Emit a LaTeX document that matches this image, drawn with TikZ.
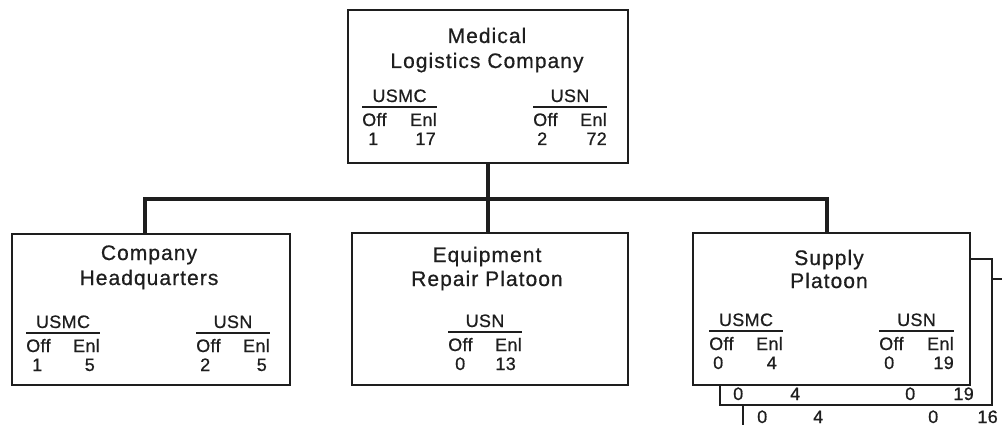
\documentclass[tikz,border=0pt]{standalone}
\usepackage{fontspec}
\setmainfont{Liberation Sans}
\newfontfamily\ttlfont[LetterSpace=5,FakeBold=0.6]{Liberation Sans}
\newfontfamily\subfnt[LetterSpace=2,FakeBold=0.6]{Liberation Sans}
\definecolor{ink}{HTML}{1E1E1E}
\tikzset{
  box/.style={draw=ink, line width=2pt, fill=white, rectangle, inner sep=0pt, anchor=north west},
  bus/.style={draw=ink, line width=4pt, line join=miter},
  ttl/.style={inner sep=0pt, anchor=base, text=ink, font=\ttlfont\fontsize{21}{24}\selectfont},
  sub/.style={inner sep=0pt, text=ink, font=\subfnt\fontsize{18}{20}\selectfont},
  urule/.style={draw=ink, line width=1.1pt},
}
\newcommand\grp[9]{%
  \node[sub, anchor=base] (#1-lab) at ({(#2+#3)/2}, #4) {#5};
  \draw[urule] (#2, #4+5) -- (#3, #4+5);
  \node[sub, anchor=base west] (#1-off) at (#2, #4+24) {Off};
  \node[sub, anchor=base east] (#1-enl) at (#3, #4+24) {Enl};
  \node[sub, anchor=base west] (#1-n1) at (#6, #4+43) {#7};
  \node[sub, anchor=base east] (#1-n2) at (#8, #4+43) {#9};
}
\begin{document}
\begin{tikzpicture}[x=1pt,y=-1pt]
\clip (0,0) rectangle (1002,425);
\fill[white] (0,0) rectangle (1002,425);

% stacked boxes behind supply platoon
\node[box, minimum width=300pt, minimum height=200pt] (sup3) at (742,278) {};
\node[box, minimum width=272pt, minimum height=146pt] (sup2) at (719,258) {};

% main boxes
\node[box, minimum width=280pt, minimum height=153pt] (top) at (347,9) {};
\node[box, minimum width=278pt, minimum height=151pt] (hq) at (11,233) {};
\node[box, minimum width=276pt, minimum height=152pt] (mid) at (351,232) {};
\node[box, minimum width=277pt, minimum height=152pt] (supply) at (692,232) {};

% connectors
\coordinate (busL) at (145,199);
\coordinate (busR) at (827,199);
\draw[bus] (top.south) -- (top.south |- mid.north);
\draw[bus] (hq.north -| busL) |- (busR) -- (supply.north -| busR);

% titles
\node[ttl] (t1a) at (487,43) {Medical};
\node[ttl] (t1b) at (487,68) {Logistics Company};
\node[ttl] (t2a) at (149,260) {Company};
\node[ttl] (t2b) at (149,285) {Headquarters};
\node[ttl] (t3a) at (487,262) {Equipment};
\node[ttl] (t3b) at (487,286) {Repair Platoon};
\node[ttl] (t4a) at (829,265) {Supply};
\node[ttl] (t4b) at (829,288) {Platoon};

% strength groups
\grp{a}{362}{437}{102}{USMC}{368}{1}{436}{17}
\grp{b}{533}{607}{102}{USN}{537}{2}{607}{72}
\grp{c}{26}{100}{328}{USMC}{32}{1}{95}{5}
\grp{d}{196}{270}{328}{USN}{200}{2}{267}{5}
\grp{e}{448}{522}{327}{USN}{455}{0}{516}{13}
\grp{f}{709}{783}{326}{USMC}{713}{0}{777}{4}
\grp{g}{879}{954}{326}{USN}{884}{0}{954}{19}

% numbers on the stacked boxes
\node[sub, anchor=base west] (s2a) at (733,400) {0};
\node[sub, anchor=base west] (s2b) at (790,400) {4};
\node[sub, anchor=base west] (s2c) at (905,400) {0};
\node[sub, anchor=base east] (s2d) at (974,400) {19};
\node[sub, anchor=base west] (s3a) at (757,423) {0};
\node[sub, anchor=base west] (s3b) at (813,423) {4};
\node[sub, anchor=base west] (s3c) at (928,423) {0};
\node[sub, anchor=base east] (s3d) at (998,423) {16};
\end{tikzpicture}
\end{document}
